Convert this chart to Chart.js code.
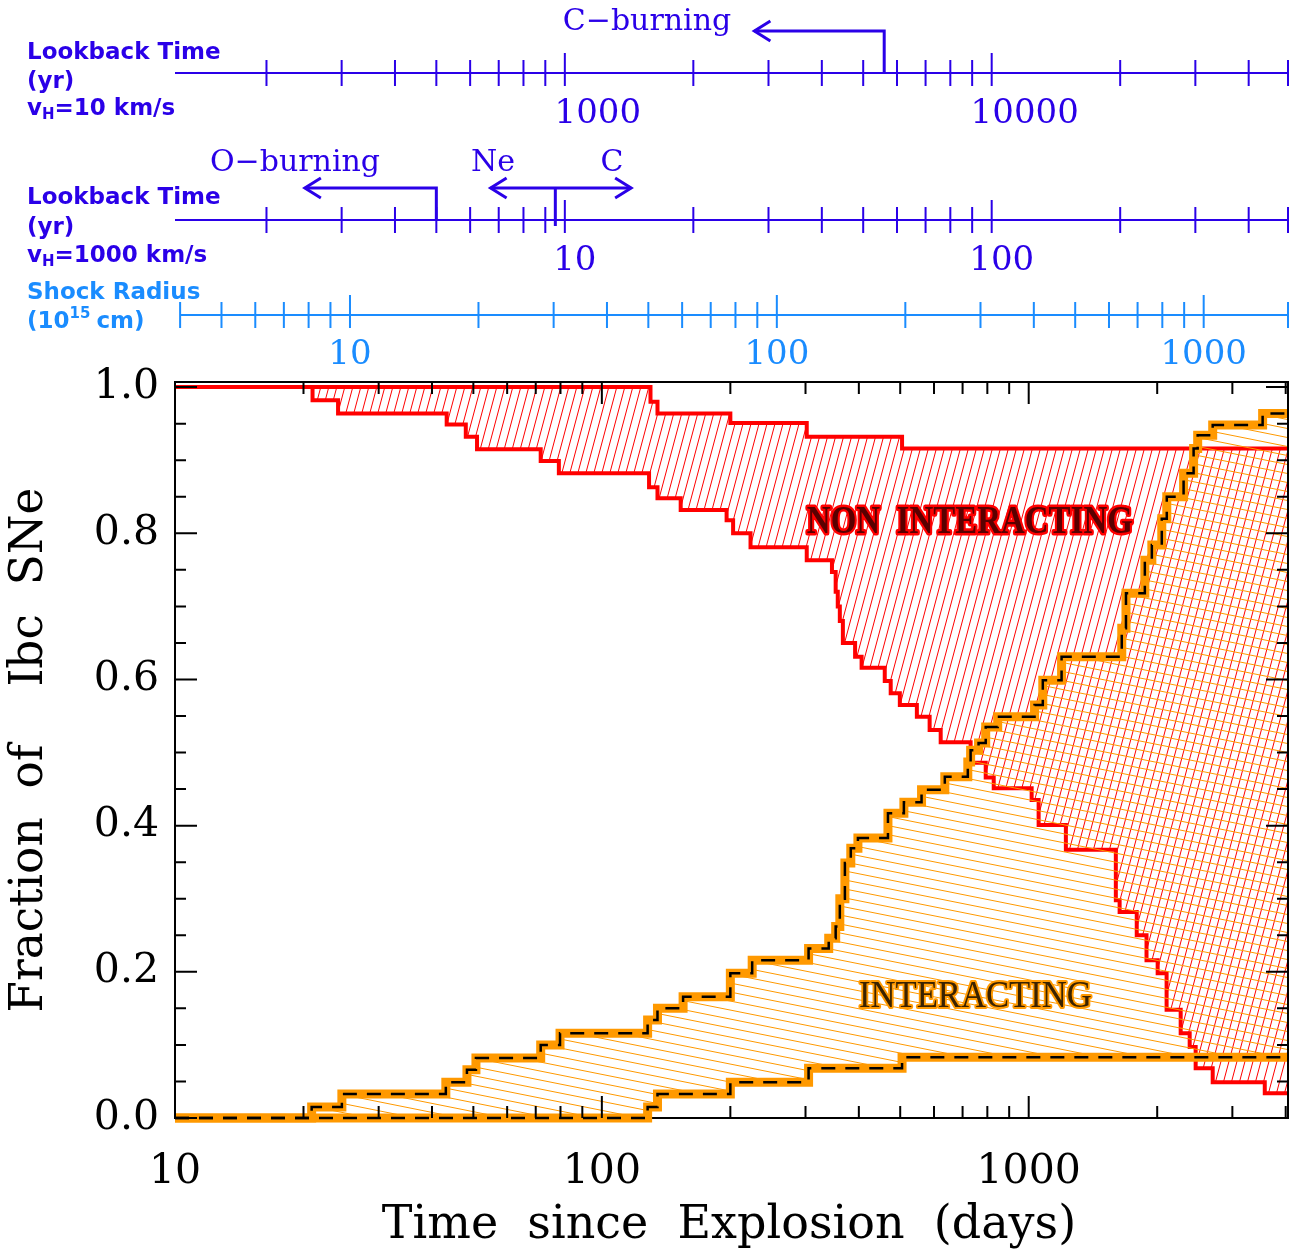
<!DOCTYPE html>
<html>
<head>
<meta charset="utf-8">
<script src="https://cdn.jsdelivr.net/npm/chart.js@4.4.1/dist/chart.umd.min.js"></script>
<style>
  body { margin: 0; background: #fff; }
  #wrap { width: 1294px; height: 1255px; }
</style>
</head>
<body>
<div id="wrap"><canvas id="sneChart" width="1294" height="1255"></canvas></div>
<script>
// Step curves: [days, fraction] - value holds from this day until the next point
const redUpper = [[10,1.0],[130,0.98],[135,0.964],[200,0.951],[302,0.932],[505,0.916],[4050,0.916]];
const redLower = [[10,1.0],[21,0.982],[24.1,0.964],[43.3,0.949],[48,0.932],[51,0.915],[71.9,0.899],[79.3,0.882],
  [129,0.863],[135,0.848],[153,0.832],[196,0.818],[203,0.80],[223,0.781],[302,0.763],[346,0.747],[353,0.72],
  [357,0.70],[361,0.68],[367,0.65],[392,0.631],[406,0.616],[460,0.598],[475,0.581],[499,0.565],[547,0.549],
  [586,0.531],[622,0.514],[731,0.486],[793,0.466],[828,0.451],[1016,0.435],[1055,0.401],[1222,0.367],
  [1600,0.298],[1633,0.282],[1791,0.25],[1888,0.216],[2005,0.198],[2104,0.148],[2270,0.116],[2383,0.097],
  [2461,0.068],[2698,0.049],[3573,0.034],[4050,0.034]];
const orangeUpper = [[10,0],[20.9,0.015],[24.6,0.033],[43.1,0.049],[48.3,0.066],[50.7,0.082],[71.9,0.10],
  [79.8,0.116],[128,0.134],[135,0.150],[155,0.166],[200,0.198],[225,0.216],[305,0.232],[340,0.246],
  [353,0.262],[361,0.30],[371,0.349],[383,0.369],[398,0.383],[468,0.417],[510,0.432],[561,0.449],
  [636,0.467],[720,0.487],[731,0.503],[763,0.513],[793,0.535],[846,0.549],[1032,0.565],[1079,0.599],
  [1194,0.631],[1652,0.67],[1690,0.718],[1871,0.763],[1943,0.784],[2050,0.82],[2106,0.850],[2306,0.882],
  [2434,0.916],[2488,0.934],[2698,0.948],[3532,0.964],[4050,0.964]];
const orangeLower = [[10,0],[128,0.015],[135,0.033],[200,0.049],[305,0.068],[505,0.083],[4050,0.083]];

// Main axis ticks
const xMajor = [10, 100, 1000];
const xMinor = [20,30,40,50,60,70,80,90,200,300,400,500,600,700,800,900,2000,3000,4000];
const yMajor = [0, 0.2, 0.4, 0.6, 0.8, 1.0];
const yMinor = [0.05,0.1,0.15,0.25,0.3,0.35,0.45,0.5,0.55,0.65,0.7,0.75,0.85,0.9,0.95];

// Secondary axes: value * factor = days
const lookbackSlowFactor = 0.0819;   // yr at vH=10 km/s
const lookbackSlowMinor = [200,300,400,500,600,700,800,900,2000,3000,4000,5000,6000,7000,8000,9000,20000,30000,40000];
const lookbackSlowMajor = [1000, 10000];
const lookbackFastFactor = 8.19;     // yr at vH=1000 km/s
const lookbackFastMinor = [2,3,4,5,6,7,8,9,20,30,40,50,60,70,80,90,200,300,400];
const lookbackFastMajor = [10, 100];
const radiusFactor = 2.57;           // 10^15 cm
const radiusMinor = [4,5,6,7,8,9,20,30,40,50,60,70,80,90,200,300,400,500,600,700,800,900];
const radiusMajor = [10, 100, 1000];

const BLUE = '#2a00e8';
const LIGHTBLUE = '#1a8cff';
const RED = '#ff0000';
const ORANGE = '#ff9900';

function toXY(arr) { return arr.map(p => ({x: p[0], y: p[1]})); }

function makeHatch(w, h, color, dir) {
    const c = document.createElement('canvas');
    c.width = w; c.height = h;
    const g = c.getContext('2d');
    g.strokeStyle = color;
    g.lineWidth = 1;
    g.beginPath();
    if (dir === 'steep') {
        for (let k = -1; k <= 1; k++) { g.moveTo(k * w, h); g.lineTo((k + 1) * w, 0); }
    } else {
        for (let k = -1; k <= 1; k++) { g.moveTo(0, k * h); g.lineTo(w, (k + 1) * h); }
    }
    g.stroke();
    return g.createPattern(c, 'repeat');
}

const ctx = document.getElementById('sneChart').getContext('2d');
const redHatch = makeHatch(8, 30, RED, 'steep');
const orangeHatch = makeHatch(45, 9, ORANGE, 'shallow');

function drawArrowHead(g, x, y, dir) {
    g.beginPath();
    g.moveTo(x - dir * 16, y - 10);
    g.lineTo(x, y);
    g.lineTo(x - dir * 16, y + 10);
    g.stroke();
}

function drawLabelWithSub(g, x, y, pre, sub, post) {
    g.fillText(pre, x, y);
    let w = g.measureText(pre).width;
    const f = g.font;
    g.font = 'bold 15px "DejaVu Sans"';
    g.fillText(sub, x + w, y + 6);
    w += g.measureText(sub).width;
    g.font = f;
    g.fillText(post, x + w, y);
}

const extraAxes = {
    id: 'extraAxes',
    afterDraw(chart) {
        const g = chart.ctx;
        const xs = chart.scales.x, ys = chart.scales.y;
        const area = chart.chartArea;
        g.save();

        // main axis ticks (inward, all four sides)
        g.strokeStyle = '#000';
        g.lineWidth = 2;
        g.beginPath();
        xMajor.concat(xMinor).forEach(v => {
            const px = xs.getPixelForValue(v);
            const len = xMajor.includes(v) ? 22 : 12;
            g.moveTo(px, area.bottom); g.lineTo(px, area.bottom - len);
            g.moveTo(px, area.top); g.lineTo(px, area.top + len);
        });
        yMajor.concat(yMinor).forEach(v => {
            const py = ys.getPixelForValue(v);
            const len = yMajor.includes(v) ? 22 : 11;
            g.moveTo(area.left, py); g.lineTo(area.left + len, py);
            g.moveTo(area.right, py); g.lineTo(area.right - len, py);
        });
        g.stroke();

        // secondary log axes
        function drawAxis(y, factor, minor, major, color, startDays, labelY, labelShift) {
            const x0 = xs.getPixelForValue(startDays);
            g.strokeStyle = color; g.fillStyle = color; g.lineWidth = 2;
            g.beginPath();
            g.moveTo(x0, y); g.lineTo(area.right, y);
            minor.forEach(v => {
                const d = v * factor;
                if (d < 10 || d > xs.max) return;
                const px = xs.getPixelForValue(d);
                g.moveTo(px, y - 13); g.lineTo(px, y + 13);
            });
            major.forEach(v => {
                const px = xs.getPixelForValue(v * factor);
                g.moveTo(px, y - 20); g.lineTo(px, y + 13);
            });
            g.moveTo(area.right, y - 13); g.lineTo(area.right, y + 13);
            g.stroke();
            g.font = '34px "DejaVu Serif"';
            g.textAlign = 'center'; g.textBaseline = 'middle';
            major.forEach(v => {
                const px = xs.getPixelForValue(v * factor);
                g.fillText(String(v), px + labelShift, labelY);
            });
        }
        drawAxis(73, lookbackSlowFactor, lookbackSlowMinor, lookbackSlowMajor, BLUE, 10, 114, 33);
        drawAxis(220, lookbackFastFactor, lookbackFastMinor, lookbackFastMajor, BLUE, 10, 261, 10);
        drawAxis(315, radiusFactor, radiusMinor, radiusMajor, LIGHTBLUE, 4 * radiusFactor, 355, 0);

        // burning phase markers
        g.strokeStyle = BLUE; g.fillStyle = BLUE; g.lineWidth = 3;
        const cStart = xs.getPixelForValue(5600 * lookbackSlowFactor);
        const cEnd = xs.getPixelForValue(2780 * lookbackSlowFactor);
        g.beginPath(); g.moveTo(cStart, 73); g.lineTo(cStart, 31); g.lineTo(cEnd, 31); g.stroke();
        drawArrowHead(g, cEnd, 31, -1);
        const oStart = xs.getPixelForValue(5 * lookbackFastFactor);
        const oEnd = xs.getPixelForValue(2.46 * lookbackFastFactor);
        g.beginPath(); g.moveTo(oStart, 220); g.lineTo(oStart, 188); g.lineTo(oEnd, 188); g.stroke();
        drawArrowHead(g, oEnd, 188, -1);
        const neC = xs.getPixelForValue(9.5 * lookbackFastFactor);
        const neL = xs.getPixelForValue(6.7 * lookbackFastFactor);
        const neR = xs.getPixelForValue(14.3 * lookbackFastFactor);
        g.beginPath(); g.moveTo(neC, 226); g.lineTo(neC, 188); g.moveTo(neL, 188); g.lineTo(neR, 188); g.stroke();
        drawArrowHead(g, neL, 188, -1);
        drawArrowHead(g, neR, 188, 1);
        g.font = '30px "DejaVu Serif"';
        g.textAlign = 'center'; g.textBaseline = 'middle';
        g.fillText('C\u2212burning', 647, 22);
        g.fillText('O\u2212burning', 295, 163);
        g.fillText('Ne', 493, 163);
        g.fillText('C', 612, 163);

        // axis captions on the left
        g.textAlign = 'left'; g.textBaseline = 'middle';
        g.font = 'bold 23px "DejaVu Sans"';
        g.fillStyle = BLUE;
        g.fillText('Lookback Time', 27, 53, 200);
        g.fillText('(yr)', 27, 82);
        drawLabelWithSub(g, 27, 109, 'v', 'H', '=10 km/s');
        g.fillText('Lookback Time', 27, 198, 200);
        g.fillText('(yr)', 27, 228);
        drawLabelWithSub(g, 27, 256, 'v', 'H', '=1000 km/s');
        g.fillStyle = LIGHTBLUE;
        g.fillText('Shock Radius', 27, 293);
        g.fillText('(10', 27, 322);
        let w = g.measureText('(10').width;
        g.font = 'bold 15px "DejaVu Sans"';
        g.fillText('15', 27 + w, 314);
        w += g.measureText('15').width + 6;
        g.font = 'bold 23px "DejaVu Sans"';
        g.fillText('cm)', 27 + w, 322);

        // region labels
        g.textAlign = 'center'; g.textBaseline = 'middle';
        g.lineJoin = 'round';
        let px = xs.getPixelForValue(728), py = ys.getPixelForValue(0.815);
        g.font = 'bold 40px "Liberation Serif"';
        g.strokeStyle = RED; g.lineWidth = 5;
        g.strokeText('NON  INTERACTING', px, py, 326);
        g.fillStyle = '#5a0000';
        g.fillText('NON  INTERACTING', px, py, 326);
        px = xs.getPixelForValue(750); py = ys.getPixelForValue(0.165);
        g.font = '38px "Liberation Serif"';
        g.strokeStyle = ORANGE; g.lineWidth = 4;
        g.strokeText('INTERACTING', px, py, 233);
        g.fillStyle = '#3a2200';
        g.fillText('INTERACTING', px, py, 233);

        // axis titles
        g.fillStyle = '#000';
        g.font = '46px "DejaVu Serif"';
        g.fillText('Time  since  Explosion  (days)', 729, 1226, 720);
        g.save();
        g.translate(30, 750);
        g.rotate(-Math.PI / 2);
        g.fillText('Fraction  of    Ibc  SNe', 0, 0, 525);
        g.restore();

        g.restore();
    }
};

const chart = new Chart(ctx, {
    type: 'line',
    data: {
        datasets: [
            { data: toXY(orangeUpper), borderColor: '#000', borderWidth: 2.5, borderDash: [14, 10], fill: false },
            { data: toXY(orangeLower), borderColor: '#000', borderWidth: 2.5, borderDash: [14, 10], fill: false },
            { data: toXY(orangeUpper), borderColor: ORANGE, borderWidth: 9, fill: '+1', backgroundColor: orangeHatch },
            { data: toXY(orangeLower), borderColor: ORANGE, borderWidth: 9, fill: false },
            { data: toXY(redUpper), borderColor: RED, borderWidth: 4, fill: '+1', backgroundColor: redHatch },
            { data: toXY(redLower), borderColor: RED, borderWidth: 4, fill: false }
        ]
    },
    options: {
        responsive: false,
        animation: false,
        devicePixelRatio: 1,
        parsing: false,
        elements: {
            line: { stepped: 'before', tension: 0, borderJoinStyle: 'miter', borderCapStyle: 'butt' },
            point: { radius: 0 }
        },
        datasets: { line: { clip: false } },
        layout: { padding: { top: 382, right: 6, left: 0, bottom: 0 } },
        scales: {
            x: {
                type: 'logarithmic',
                min: 10, max: 4050,
                afterBuildTicks: s => { s.ticks = xMajor.map(v => ({ value: v })); },
                afterFit: s => { s.height = 137; },
                grid: { display: false, drawTicks: false },
                border: { display: true, color: '#000', width: 2 },
                ticks: {
                    padding: 30,
                    color: '#000',
                    font: { family: 'DejaVu Serif', size: 41 },
                    callback: v => String(v)
                }
            },
            y: {
                min: 0, max: 1.007,
                afterBuildTicks: s => { s.ticks = yMajor.map(v => ({ value: v })); },
                afterFit: s => { s.width = 175; },
                grid: { display: false, drawTicks: false },
                border: { display: true, color: '#000', width: 2 },
                ticks: {
                    padding: 16,
                    color: '#000',
                    font: { family: 'DejaVu Serif', size: 41 },
                    callback: v => Number(v).toFixed(1)
                }
            }
        },
        plugins: {
            legend: { display: false },
            tooltip: { enabled: false },
            filler: { propagate: false }
        }
    },
    plugins: [extraAxes, {
        id: 'frame',
        afterDatasetsDraw(chart) {
            const g = chart.ctx, a = chart.chartArea;
            g.save();
            g.strokeStyle = '#000'; g.lineWidth = 2;
            g.beginPath();
            g.moveTo(a.left, a.top); g.lineTo(a.right, a.top); g.lineTo(a.right, a.bottom);
            g.stroke();
            g.restore();
        }
    }]
});
</script>
</body>
</html>
